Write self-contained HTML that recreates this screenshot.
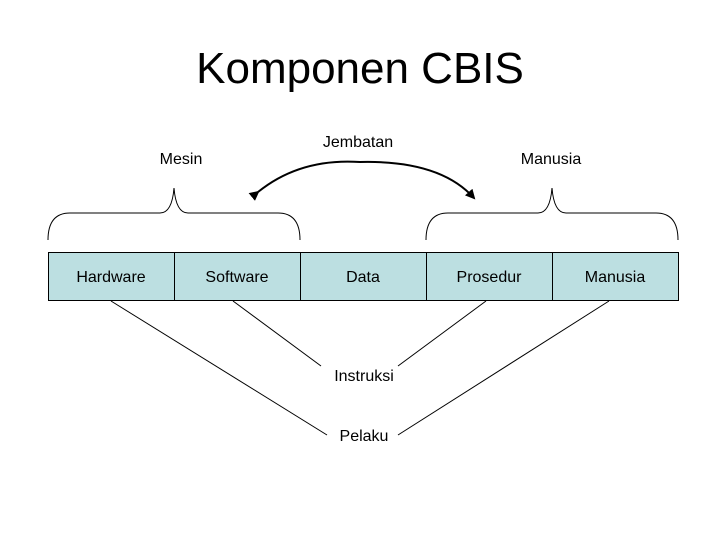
<!DOCTYPE html>
<html><head><style>
body{margin:0;width:720px;height:540px;background:#fff;overflow:hidden;font-family:"Liberation Sans",Arial,sans-serif;}
</style></head><body>
<svg width="720" height="540" xmlns="http://www.w3.org/2000/svg" font-family="Liberation Sans, Arial, sans-serif">
<text x="360" y="83" font-size="44" text-anchor="middle">Komponen CBIS</text>
<text x="181" y="164" font-size="16" text-anchor="middle">Mesin</text>
<text x="358" y="147" font-size="16" text-anchor="middle">Jembatan</text>
<text x="551" y="164" font-size="16" text-anchor="middle">Manusia</text>
<defs><marker id="ah" markerWidth="10" markerHeight="10" refX="8" refY="5" orient="auto" markerUnits="userSpaceOnUse"><path d="M0,0 L10,5 L0,10 z" fill="#000"/></marker></defs>
<path d="M258,192 Q300,158 360,162 Q440,160 474,198" fill="none" stroke="#000" stroke-width="2" marker-start="url(#ah)" marker-end="url(#ah)" style="marker-start:url(#ah)"/>
<g fill="none" stroke="#000" stroke-width="1">
<path d="M48,240 Q48,213 70,213 L160,213 Q172,213 174,188 Q176,213 188,213 L278,213 Q300,213 300,240"/>
<path d="M426,240 Q426,213 448,213 L538,213 Q550,213 552,188 Q554,213 566,213 L656,213 Q678,213 678,240"/>
</g>
<rect x="48.5" y="252.5" width="630" height="48" fill="#bcdfe1" stroke="#000"/>
<g stroke="#000"><line x1="174.5" y1="252" x2="174.5" y2="300"/><line x1="300.5" y1="252" x2="300.5" y2="300"/><line x1="426.5" y1="252" x2="426.5" y2="300"/><line x1="552.5" y1="252" x2="552.5" y2="300"/></g>
<g font-size="16" text-anchor="middle">
<text x="111" y="282">Hardware</text><text x="237" y="282">Software</text><text x="363" y="282">Data</text><text x="489" y="282">Prosedur</text><text x="615" y="282">Manusia</text>
<text x="364" y="381">Instruksi</text><text x="364" y="441">Pelaku</text>
</g>
<g stroke="#000" stroke-width="1">
<line x1="111" y1="301" x2="327" y2="435"/>
<line x1="233" y1="301" x2="321" y2="366"/>
<line x1="486" y1="301" x2="398" y2="366"/>
<line x1="609" y1="301" x2="398" y2="435"/>
</g>
</svg>
</body></html>
